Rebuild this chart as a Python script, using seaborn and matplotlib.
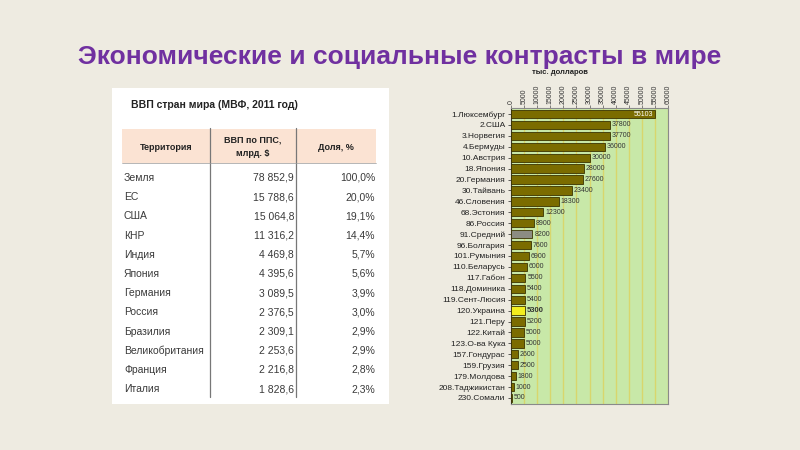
import matplotlib
matplotlib.use("Agg")
import matplotlib.pyplot as plt
import seaborn as sns
import pandas as pd
import numpy as np
from matplotlib.patches import Rectangle

# ---------------- data ----------------
title_text = "Экономические и социальные контрасты в мире"

table_title = "ВВП стран мира (МВФ, 2011 год)"
table_headers = ["Территория", "ВВП по ППС,\nмлрд. $", "Доля, %"]
table_territory = ["Земля", "ЕС", "США", "КНР", "Индия", "Япония", "Германия",
                   "Россия", "Бразилия", "Великобритания", "Франция", "Италия"]
table_gdp = ["78 852,9", "15 788,6", "15 064,8", "11 316,2", "4 469,8", "4 395,6",
             "3 089,5", "2 376,5", "2 309,1", "2 253,6", "2 216,8", "1 828,6"]
table_share = ["100,0%", "20,0%", "19,1%", "14,4%", "5,7%", "5,6%", "3,9%",
               "3,0%", "2,9%", "2,9%", "2,8%", "2,3%"]

chart_unit = "тыс. долларов"
countries = ["1.Люксембург", "2.США", "3.Норвегия", "4.Бермуды", "10.Австрия",
             "18.Япония", "20.Германия", "30.Тайвань", "46.Словения", "68.Эстония",
             "86.Россия", "91.Средний", "96.Болгария", "101.Румыния", "110.Беларусь",
             "117.Габон", "118.Доминика", "119.Сент-Люсия", "120.Украина", "121.Перу",
             "122.Китай", "123.О-ва Кука", "157.Гондурас", "159.Грузия", "179.Молдова",
             "208.Таджикистан", "230.Сомали"]
gdp_per_capita = [55103, 37800, 37700, 36000, 30000, 28000, 27600, 23400, 18300,
                  12300, 8900, 8200, 7600, 6900, 6000, 5500, 5400, 5400, 5300, 5200,
                  5000, 5000, 2600, 2500, 1800, 1000, 500]
x_ticks = list(range(0, 60001, 5000))

# ---------------- style ----------------
sns.set_theme(style="white")
plt.rcParams['font.family'] = ['Liberation Sans', 'DejaVu Sans']

W, H = 800, 450
fig = plt.figure(figsize=(8, 4.5), dpi=100, facecolor="#eeebe1")

def fx(px):
    return px / W

def fy(py):
    return 1 - py / H

# title
fig.text(0.5, fy(57), title_text, ha="center", va="center", fontsize=19,
         fontweight="bold", color="#7030a0")

# ---------------- table ----------------
tl, tt, tr, tb = 112, 88, 389, 404
axt = fig.add_axes([fx(tl), fy(tb), fx(tr - tl), (tb - tt) / H])
axt.set_xlim(tl, tr)
axt.set_ylim(tb, tt)
axt.set_facecolor("white")
axt.set_xticks([])
axt.set_yticks([])
for s in axt.spines.values():
    s.set_visible(False)

axt.text(131, 105, table_title, ha="left", va="center", fontsize=7.5,
         fontweight="bold", color="#222222")
axt.add_patch(Rectangle((122, 129), 376 - 122, 163 - 129, facecolor="#fbe3d3",
                        edgecolor="none"))
axt.plot([210, 210], [128, 397], color="#777777", lw=0.9)
axt.plot([296, 296], [128, 397], color="#777777", lw=0.9)
axt.plot([122, 376], [163, 163], color="#999999", lw=0.5)
axt.text(166, 148, table_headers[0], ha="center", va="center", fontsize=6.5,
         fontweight="bold", color="#222222")
axt.text(253, 147, table_headers[1], ha="center", va="center", fontsize=6.5,
         fontweight="bold", color="#222222", linespacing=1.6)
axt.text(336, 148, table_headers[2], ha="center", va="center", fontsize=6.5,
         fontweight="bold", color="#222222")
row_y0, row_dy = 178, 19.2
for i, (t, g, s) in enumerate(zip(table_territory, table_gdp, table_share)):
    y = row_y0 + i * row_dy
    axt.text(124, y, t, ha="left", va="center", fontsize=7.5, color="#3a3a3a")
    axt.text(294, y, g, ha="right", va="center", fontsize=7.5, color="#3a3a3a")
    axt.text(375, y, s, ha="right", va="center", fontsize=7.5, color="#3a3a3a")

# ---------------- bar chart ----------------
al, at, ar, ab = 511, 108, 668, 404
ax = fig.add_axes([fx(al), fy(ab), fx(ar - al), (ab - at) / H])

df = pd.DataFrame({"country": countries, "value": gdp_per_capita})
palette = []
for c in countries:
    if "Средний" in c:
        palette.append("#8c8c82")
    elif "Украина" in c:
        palette.append("#f2ee1e")
    else:
        palette.append("#7b6c00")

sns.barplot(data=df, y="country", x="value", hue="country", palette=palette,
            legend=False, orient="h", width=0.76, edgecolor="#3a3300",
            linewidth=0.6, saturation=1, ax=ax, zorder=3)

ax.set_facecolor("#c8e8a8")
ax.set_xlim(0, 60000)
ax.set_ylim(len(countries) - 0.45, -0.55)
ax.set_xticks(x_ticks)
ax.set_xticklabels([str(v) for v in x_ticks], rotation=90, fontsize=5,
                   color="#333333")
ax.xaxis.tick_top()
ax.tick_params(axis="x", top=True, length=2, width=0.5, pad=1, color="#555555")
ax.tick_params(axis="y", left=True, length=2, width=0.5, pad=2, labelsize=6,
               colors="#222222")
ax.set_xlabel("")
ax.set_ylabel("")
ax.grid(axis="x", color="#d8d66c", lw=1.0, zorder=0)
ax.set_axisbelow(True)
for side in ["right", "bottom", "top"]:
    ax.spines[side].set_color("#8a8a8a")
    ax.spines[side].set_linewidth(0.8)
ax.spines["left"].set_color("#333333")
ax.spines["left"].set_linewidth(0.8)

for p in ax.patches:
    v = p.get_width()
    yc = p.get_y() + p.get_height() / 2
    if v > 50000:
        ax.text(v - 700, yc, f"{int(round(v))}", ha="right", va="center",
                fontsize=5, color="white", zorder=5)
    else:
        bold = v == 5300
        ax.text(v + 700, yc, f"{int(round(v))}", ha="left", va="center",
                fontsize=5.5 if bold else 5, color="#333333",
                fontweight="bold" if bold else "normal", zorder=5)

fig.text(fx(560), fy(72), chart_unit, ha="center", va="center", fontsize=5.5,
         fontweight="bold", color="#222222")

fig.savefig("out.png", dpi=100, facecolor=fig.get_facecolor())
